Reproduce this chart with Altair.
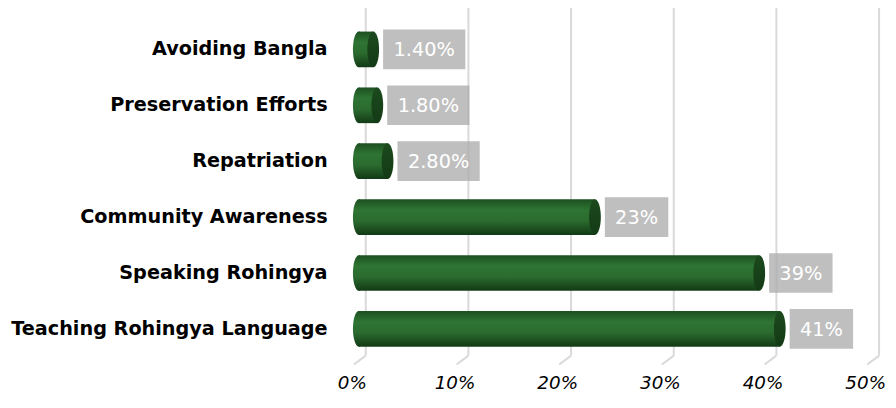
import altair as alt
import pandas as pd

categories = ["Avoiding Bangla", "Preservation Efforts", "Repatriation ",
              "Community Awareness", "Speaking Rohingya ", "Teaching Rohingya Language"]
values = [0.014, 0.018, 0.028, 0.23, 0.39, 0.41]
labels = ["1.40%", "1.80%", "2.80%", "23%", "39%", "41%"]
ticks = [0.0, 0.1, 0.2, 0.3, 0.4, 0.5]

df = pd.DataFrame({"cat": categories, "val": values, "lab": labels})
df["zero"] = 0.0
grid = pd.DataFrame({"t": ticks})

FONT = "DejaVu Sans"
xs = alt.Scale(domain=[0, 0.5], nice=False)
ys = alt.Scale(domain=categories, paddingInner=0.36, paddingOuter=0.212)

xaxis = alt.Axis(values=ticks, format=".0%", grid=False, domain=False, ticks=False,
                 labelFont=FONT, labelFontStyle="italic", labelFontSize=18.5,
                 labelColor="#000000", labelPadding=15, labelOffset=-7,
                 labelFlush=False, labelBound=False, labelOverlap=False, title=None)

def XQ(field):
    return alt.X(field, scale=xs, axis=xaxis, title=None)

Y = alt.Y("cat:N", scale=ys, sort=categories, title=None,
          axis=alt.Axis(domain=False, ticks=False, labelFont=FONT, labelFontWeight="bold",
                        labelFontSize=19.4, labelColor="#000000", labelPadding=32,
                        labelLimit=400))

bar_grad = alt.Gradient(gradient="linear", x1=0, x2=0, y1=0, y2=1,
                        stops=[alt.GradientStop(offset=0, color="#1d4f20"),
                               alt.GradientStop(offset=0.3, color="#2e7433"),
                               alt.GradientStop(offset=0.6, color="#2b6c2f"),
                               alt.GradientStop(offset=1, color="#123a15")])
cap_grad = alt.Gradient(gradient="linear", x1=0, x2=0, y1=0, y2=1,
                        stops=[alt.GradientStop(offset=0, color="#1c4a1e"),
                               alt.GradientStop(offset=1, color="#133a15")])

ellipse = "M0,-1 A0.33,1 0 1,1 0,1 A0.33,1 0 1,1 0,-1 Z"

base = alt.Chart(df)

gridv = alt.Chart(grid).mark_rule(color="#d9d9d9", strokeWidth=2, xOffset=7).encode(
    x=XQ("t:Q"), y=alt.value(-18), y2=alt.value(339))
grids = alt.Chart(grid).mark_rule(color="#d9d9d9", strokeWidth=2, xOffset=7, x2Offset=-5).encode(
    x=XQ("t:Q"), x2="t:Q", y=alt.value(339), y2=alt.value(348))

left_cap = base.mark_point(shape=ellipse, size=1296, filled=True, fill=bar_grad,
                           opacity=1, strokeWidth=0).encode(x=XQ("zero:Q"), y=Y)
body = base.mark_bar(fill=bar_grad, height=36).encode(x=XQ("zero:Q"), x2="val:Q", y=Y)
right_cap = base.mark_point(shape=ellipse, size=1296, filled=True, fill=cap_grad,
                            opacity=1, strokeWidth=0).encode(x=XQ("val:Q"), y=Y)

long_ = base.transform_filter("length(datum.lab) > 3")
short_ = base.transform_filter("length(datum.lab) <= 3")

box_long = long_.mark_rect(color="#a9a9a9", opacity=0.75, xOffset=10, x2Offset=93,
                           height=40).encode(x=XQ("val:Q"), x2="val:Q", y=Y)
box_short = short_.mark_rect(color="#a9a9a9", opacity=0.75, xOffset=10, x2Offset=74,
                             height=40).encode(x=XQ("val:Q"), x2="val:Q", y=Y)
txt_long = long_.mark_text(color="white", font=FONT, fontSize=19.5, dx=51.5, dy=1).encode(
    x=XQ("val:Q"), y=Y, text="lab:N")
txt_short = short_.mark_text(color="white", font=FONT, fontSize=19.5, dx=42, dy=1).encode(
    x=XQ("val:Q"), y=Y, text="lab:N")

chart = alt.layer(gridv, grids, left_cap, body, right_cap, box_long, box_short,
                  txt_long, txt_short).properties(
    width=518, height=342, autosize="none", background="white",
    padding={"left": 354, "top": 10, "right": 16, "bottom": 40}
).configure_view(stroke=None)

chart.save("out.html", embed_options={"renderer": "svg", "actions": False})
